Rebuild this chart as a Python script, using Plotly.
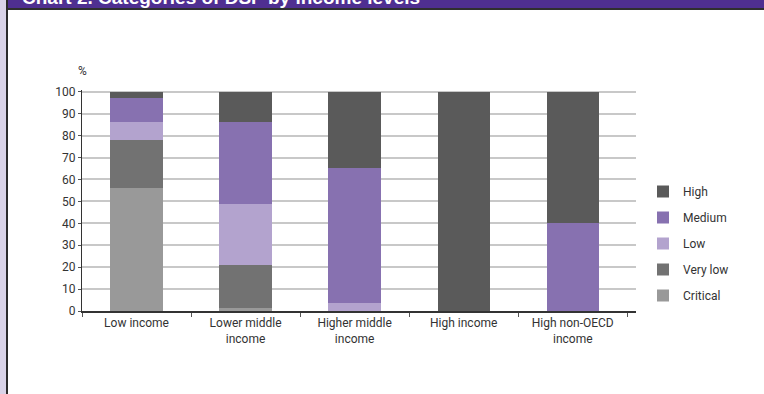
import plotly.graph_objects as go

# Income groups on the x axis
categories = ["Low income", "Lower middle<br>income", "Higher middle<br>income",
              "High income", "High non-OECD<br>income"]

# Share of each category (%), stacked from the bottom up
critical = [56, 1.5, 0, 0, 0]
very_low = [22, 19.5, 0, 0, 0]
low = [8, 28, 3.6, 0, 0]
medium = [11, 37, 61.4, 0, 40]
high = [3, 14, 35, 100, 60]

y_ticks = [0, 10, 20, 30, 40, 50, 60, 70, 80, 90, 100]

series = [
    ("Critical", critical, "#999999"),
    ("Very low", very_low, "#727272"),
    ("Low", low, "#b3a3ce"),
    ("Medium", medium, "#8771b0"),
    ("High", high, "#5a5a5a"),
]

W, H = 764, 394
L, R, T, B = 82, 128, 90, 83
PW, PH = W - L - R, H - T - B


def px_x(p):
    return (p - L) / PW


def px_y(p):
    return (H - B - p) / PH


font_family = "Roboto, Liberation Sans Narrow, sans-serif"

fig = go.Figure()
n = len(series)
for i, (name, vals, color) in enumerate(series):
    fig.add_trace(go.Bar(
        x=categories, y=vals, name=name, legendgroup=name,
        legendrank=n - i,
        marker=dict(color=color, line=dict(width=0)),
        width=0.48,
    ))

fig.update_layout(
    width=W, height=H,
    margin=dict(l=L, r=R, t=T, b=B, pad=0),
    barmode="stack",
    paper_bgcolor="white",
    plot_bgcolor="white",
    font=dict(family=font_family, size=12, color="#333333"),
    showlegend=True,
    legend=dict(
        x=px_x(643), y=px_y(177), xanchor="left", yanchor="top",
        traceorder="grouped", tracegroupgap=7,
        itemwidth=30,
        font=dict(family=font_family, size=12, color="#333333"),
        bgcolor="rgba(0,0,0,0)",
    ),
    xaxis=dict(
        type="category",
        range=[-0.5, 4.58],
        showgrid=False,
        showline=True, linecolor="#333333", linewidth=1.5,
        ticks="outside", tickson="boundaries", ticklen=4,
        tickcolor="#555555", tickwidth=1,
        tickfont=dict(family=font_family, size=12, color="#333333"),
        fixedrange=True,
    ),
    yaxis=dict(
        range=[0, 100.8],
        tickvals=y_ticks,
        showgrid=True, gridcolor="#c8c8c8", gridwidth=1.5,
        showline=True, linecolor="#333333", linewidth=1,
        ticks="outside", ticklen=3, tickcolor="#555555",
        tickfont=dict(family=font_family, size=12, color="#333333"),
        zeroline=False,
        fixedrange=True,
    ),
)

# Page frame: lavender side strip, dark rules and purple header band
fig.add_shape(type="rect", xref="paper", yref="paper",
              x0=px_x(0), x1=px_x(6), y0=px_y(H), y1=px_y(0),
              fillcolor="#d9d3e8", line=dict(width=0), layer="below")
fig.add_shape(type="rect", xref="paper", yref="paper",
              x0=px_x(6), x1=px_x(8), y0=px_y(H), y1=px_y(0),
              fillcolor="#2b2b2b", line=dict(width=0), layer="below")
fig.add_shape(type="rect", xref="paper", yref="paper",
              x0=px_x(8), x1=px_x(W), y0=px_y(8), y1=px_y(0),
              fillcolor="#4f2f91", line=dict(width=0), layer="below")
fig.add_shape(type="rect", xref="paper", yref="paper",
              x0=px_x(8), x1=px_x(W), y0=px_y(10), y1=px_y(8),
              fillcolor="#2f2f2f", line=dict(width=0), layer="below")

# Header title
fig.add_annotation(
    text="<b>Chart 2. Categories of DSF by income levels</b>",
    xref="paper", yref="paper", x=px_x(20), y=px_y(10),
    xanchor="left", yanchor="bottom", showarrow=False,
    font=dict(family="Liberation Sans, Arial, sans-serif", size=19, color="white"),
)

# Unit label above the y axis
fig.add_annotation(
    text="%", xref="paper", yref="paper", x=0, y=px_y(71),
    xanchor="center", yanchor="middle", showarrow=False,
    font=dict(family=font_family, size=12, color="#333333"),
)

fig.write_html("out.html")
